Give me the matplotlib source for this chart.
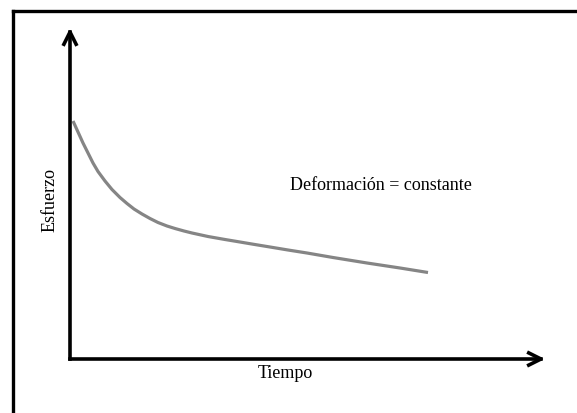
import numpy as np
import matplotlib
matplotlib.use('Agg')
import matplotlib.pyplot as plt

# curve (arbitrary units: time, stress)
tiempo = [3, 8, 13, 18, 23, 28, 35, 42, 50, 57, 64, 72, 80, 88, 97, 105,
          114, 122, 138, 155, 167, 183, 200, 218, 237, 263, 297, 330, 358]
esfuerzo = [238, 227, 216, 206, 196, 187.5, 178, 169.5, 161.5, 155.5, 150,
            145, 140.5, 136.5, 133, 130.5, 128, 126, 122.5, 119.5, 117.5,
            114.8, 112, 109, 106, 101.5, 96, 91, 86.5]

xlabel = 'Tiempo'
ylabel = 'Esfuerzo'
note = 'Deformación = constante'

plt.rcParams['font.family'] = ['Liberation Serif', 'DejaVu Serif']

fig = plt.figure(figsize=(5.77, 4.13), dpi=100)
ax = fig.add_axes([0, 0, 1, 1])
ax.set_xlim(-70, 507)
ax.set_ylim(-54, 359)
ax.axis('off')

# outer frame (left and top edges visible, rest runs off the image)
fig.add_artist(plt.Line2D([13 / 577, 13 / 577], [0, 1 - 11 / 413],
                          color='black', lw=2.4, transform=fig.transFigure,
                          solid_capstyle='projecting'))
fig.add_artist(plt.Line2D([13 / 577, 1], [1 - 11 / 413, 1 - 11 / 413],
                          color='black', lw=2.4, transform=fig.transFigure,
                          solid_capstyle='projecting'))

# axes with arrows
arrow = dict(arrowstyle='->', lw=2.6, color='black', mutation_scale=22,
             shrinkA=0, shrinkB=0, capstyle='projecting')
ax.annotate('', xy=(0, 331), xytext=(0, 0), arrowprops=arrow)
ax.annotate('', xy=(475, 0), xytext=(0, 0), arrowprops=arrow)

ax.plot(tiempo, esfuerzo, color='#858585', lw=2.3, solid_capstyle='butt',
        solid_joinstyle='round')

ax.text(311, 173, note, fontsize=13, ha='center', va='center')
ax.text(215, -14, xlabel, fontsize=13, ha='center', va='center')
ax.text(-20, 159, ylabel, fontsize=13, ha='center', va='center', rotation=90)

fig.savefig('out.png', dpi=100)
